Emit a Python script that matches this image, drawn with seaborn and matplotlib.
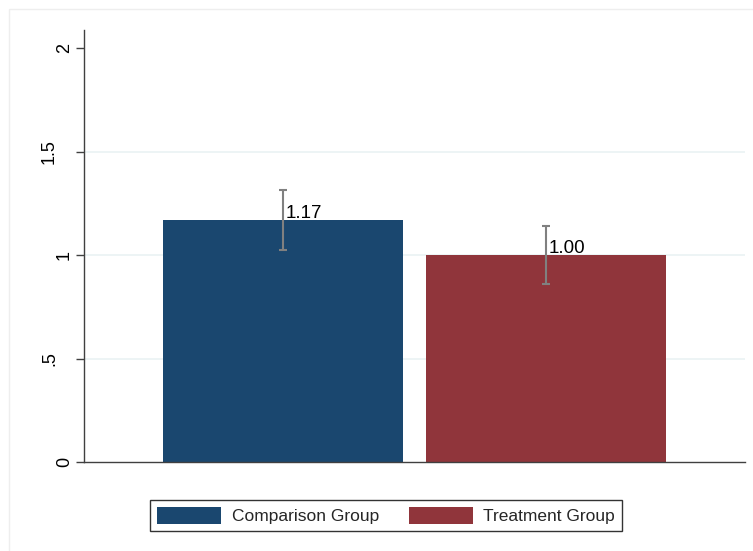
import matplotlib
matplotlib.use("Agg")
import matplotlib.pyplot as plt
import matplotlib.patches as mpatches
import seaborn as sns
import pandas as pd

# Group means with 95% confidence bounds
groups = ["Comparison Group", "Treatment Group"]
means = [1.17, 1.00]
ci_low = [1.022, 0.858]
ci_high = [1.315, 1.138]
colors = ["#1a476f", "#90353b"]
ytick_values = [0, 0.5, 1, 1.5, 2]
ytick_labels = ["0", ".5", "1", "1.5", "2"]

sns.set_theme(style="white")
plt.rcParams["font.family"] = ["Liberation Sans", "DejaVu Sans"]

df = pd.DataFrame({"group": groups, "mean": means})

fig = plt.figure(figsize=(7.53, 5.51), dpi=100)
fig.patch.set_facecolor("white")
ax_left, ax_right = 84 / 753, 745 / 753
ax = fig.add_axes([ax_left, 1 - 462 / 551, ax_right - ax_left, (462 - 30) / 551])

sns.barplot(data=df, x="group", y="mean", hue="group", palette=colors,
            order=groups, hue_order=groups, width=0.913, dodge=False,
            errorbar=None, legend=False, ax=ax, saturation=1, linewidth=0)

# confidence intervals and value labels
for i, (m, lo, hi) in enumerate(zip(means, ci_low, ci_high)):
    ax.errorbar(i, m, yerr=[[m - lo], [hi - m]], fmt="none", ecolor="#808080",
                elinewidth=1.5, capsize=3, capthick=1.5, zorder=4)
    ax.annotate(f"{m:.2f}", xy=(i, m), xytext=(1.8, 1.2), textcoords="offset points",
                ha="left", va="baseline", fontsize=13.5, color="black", zorder=5)

# light horizontal grid at interior ticks
for yv in ytick_values[1:-1]:
    ax.axhline(yv, color="#eaf2f3", linewidth=1.2, zorder=0)

ax.set_xlim(-0.757, 1.757)
ax.set_ylim(0, 2.087)
ax.set_yticks(ytick_values)
ax.set_yticklabels([])
ax.set_xticks([])
ax.set_xlabel("")
ax.set_ylabel("")
ax.tick_params(axis="y", left=True, length=6, width=1, color="#404040")
for side in ["top", "right"]:
    ax.spines[side].set_visible(False)
for side in ["left", "bottom"]:
    ax.spines[side].set_color("#404040")
    ax.spines[side].set_linewidth(1.0)
ax.set_facecolor("white")

# rotated y tick labels; longer labels sit further out from the axis
axis_width_px = (ax_right - ax_left) * 753
for yv, lab in zip(ytick_values, ytick_labels):
    edge_px = 73 if len(lab) == 1 else 58
    ax.text((edge_px - 84) / axis_width_px, yv, lab, transform=ax.get_yaxis_transform(),
            rotation=90, ha="right", va="center", rotation_mode="default",
            fontsize=13, color="black", clip_on=False)

handles = [mpatches.Patch(facecolor=c, edgecolor="none", label=g) for g, c in zip(groups, colors)]
leg = fig.legend(handles=handles, loc="center", bbox_to_anchor=(386 / 753, 1 - 515.5 / 551),
                 ncol=2, frameon=True, fancybox=False, fontsize=12.5,
                 handlelength=3.7, handleheight=1.1, handletextpad=0.6,
                 columnspacing=1.7, borderpad=0.4)
leg.get_frame().set_edgecolor("black")
leg.get_frame().set_linewidth(1.0)

# faint outer frame of the graph region
fig.patches.append(mpatches.Rectangle((9 / 753, -0.01), 1.02, 1 - 9 / 551 + 0.01,
                                      transform=fig.transFigure, fill=False,
                                      edgecolor="#eeeeee", linewidth=1.0, zorder=0))

fig.savefig("out.png", dpi=100)
